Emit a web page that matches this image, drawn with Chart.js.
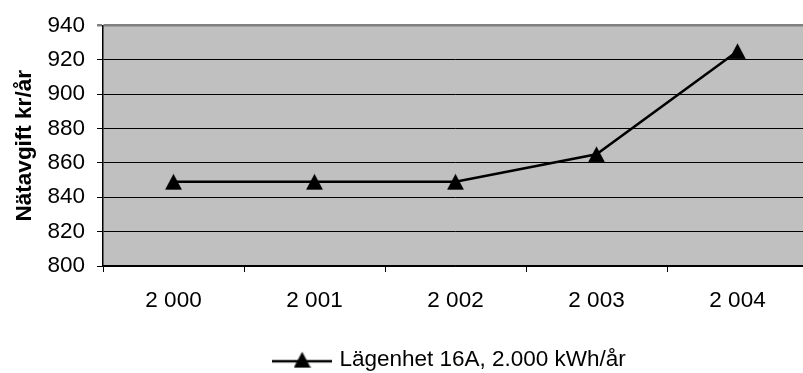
<!DOCTYPE html>
<html>
<head>
<meta charset="utf-8">
<script src="https://cdn.jsdelivr.net/npm/chart.js@4.4.0/dist/chart.umd.min.js"></script>
<style>
  html, body { margin: 0; padding: 0; background: #fff; overflow: hidden; }
  #wrap { width: 902px; height: 373px; }
</style>
</head>
<body>
<div id="wrap"><canvas id="natavgift" width="902" height="373"></canvas></div>
<script>
// Nätavgift per år
const years = ['2 000', '2 001', '2 002', '2 003', '2 004'];
const avgift = [849, 849, 849, 865, 925];
const serieNamn = 'Lägenhet 16A, 2.000 kWh/år';
const yMin = 800, yMax = 940, yStep = 20;

// triangel-markör
function triangel() {
  const c = document.createElement('canvas');
  c.width = 17; c.height = 17;
  const g = c.getContext('2d');
  g.fillStyle = '#000';
  g.beginPath();
  g.moveTo(8.5, 0.5);
  g.lineTo(17, 16.5);
  g.lineTo(0, 16.5);
  g.closePath();
  g.fill();
  return c;
}

// linje + triangel för förklaringen
function legendMarker() {
  const c = document.createElement('canvas');
  c.width = 60; c.height = 17;
  const g = c.getContext('2d');
  g.strokeStyle = '#000';
  g.lineWidth = 2.5;
  g.beginPath();
  g.moveTo(0, 10);
  g.lineTo(60, 10);
  g.stroke();
  g.drawImage(triangel(), 21.5, 0);
  return c;
}

const plotBg = {
  id: 'plotBg',
  beforeDraw(chart) {
    const a = chart.chartArea;
    const ctx = chart.ctx;
    ctx.save();
    ctx.fillStyle = '#C0C0C0';
    ctx.fillRect(a.left, a.top, a.right - a.left, a.bottom - a.top);
    ctx.restore();
  }
};

const font = { family: 'Liberation Sans, Arial, sans-serif', size: 22.5 };

const ctx = document.getElementById('natavgift').getContext('2d');
const chart = new Chart(ctx, {
  type: 'line',
  data: {
    labels: years,
    datasets: [{
      label: serieNamn,
      data: avgift,
      borderColor: '#000',
      backgroundColor: '#000',
      borderWidth: 2.5,
      pointStyle: triangel(),
      pointRadius: 9,
      pointHoverRadius: 9,
      tension: 0,
      fill: false
    }]
  },
  options: {
    responsive: false,
    animation: false,
    devicePixelRatio: 1,
    layout: { padding: { left: 0, right: 0, top: 23, bottom: -8 } },
    plugins: {
      tooltip: { enabled: false },
      legend: {
        position: 'bottom',
        labels: {
          font: font,
          color: '#000',
          usePointStyle: true,
          pointStyleWidth: 52,
          padding: 4,
          generateLabels: function(chart) {
            return chart.data.datasets.map((ds, i) => ({
              text: ds.label,
              pointStyle: legendMarker(),
              fillStyle: '#000',
              strokeStyle: '#000',
              lineWidth: 0,
              fontColor: '#000',
              datasetIndex: i
            }));
          }
        }
      }
    },
    scales: {
      x: {
        offset: true,
        grid: {
          offset: true,
          drawOnChartArea: false,
          color: '#000',
          tickLength: 6
        },
        border: { color: '#000', width: 1.5 },
        ticks: { font: font, color: '#000', padding: 15, maxRotation: 0 },
        afterFit: s => { s.height = 78.5; }
      },
      y: {
        min: yMin,
        max: yMax,
        grid: {
          color: c => c.tick && c.tick.value === yMax ? '#808080' : '#000',
          lineWidth: c => c.tick && c.tick.value === yMax ? 2.5 : 1,
          tickLength: 6
        },
        border: { color: '#000', width: 1.5 },
        ticks: { stepSize: yStep, font: font, color: '#000', padding: 12 },
        title: {
          display: true,
          text: 'Nätavgift kr/år',
          color: '#000',
          font: { family: font.family, size: 22.5, weight: 'bold' },
          padding: { top: 11, bottom: 0 }
        },
        afterFit: s => { s.width = 103; }
      },
      // tom axel så att förklaringen hamnar mitt under hela diagrammet
      yPad: {
        position: 'right',
        display: true,
        grid: { display: false },
        ticks: { display: false },
        border: { display: false },
        afterFit: s => { s.width = 94; }
      }
    }
  },
  plugins: [plotBg]
});
</script>
</body>
</html>
